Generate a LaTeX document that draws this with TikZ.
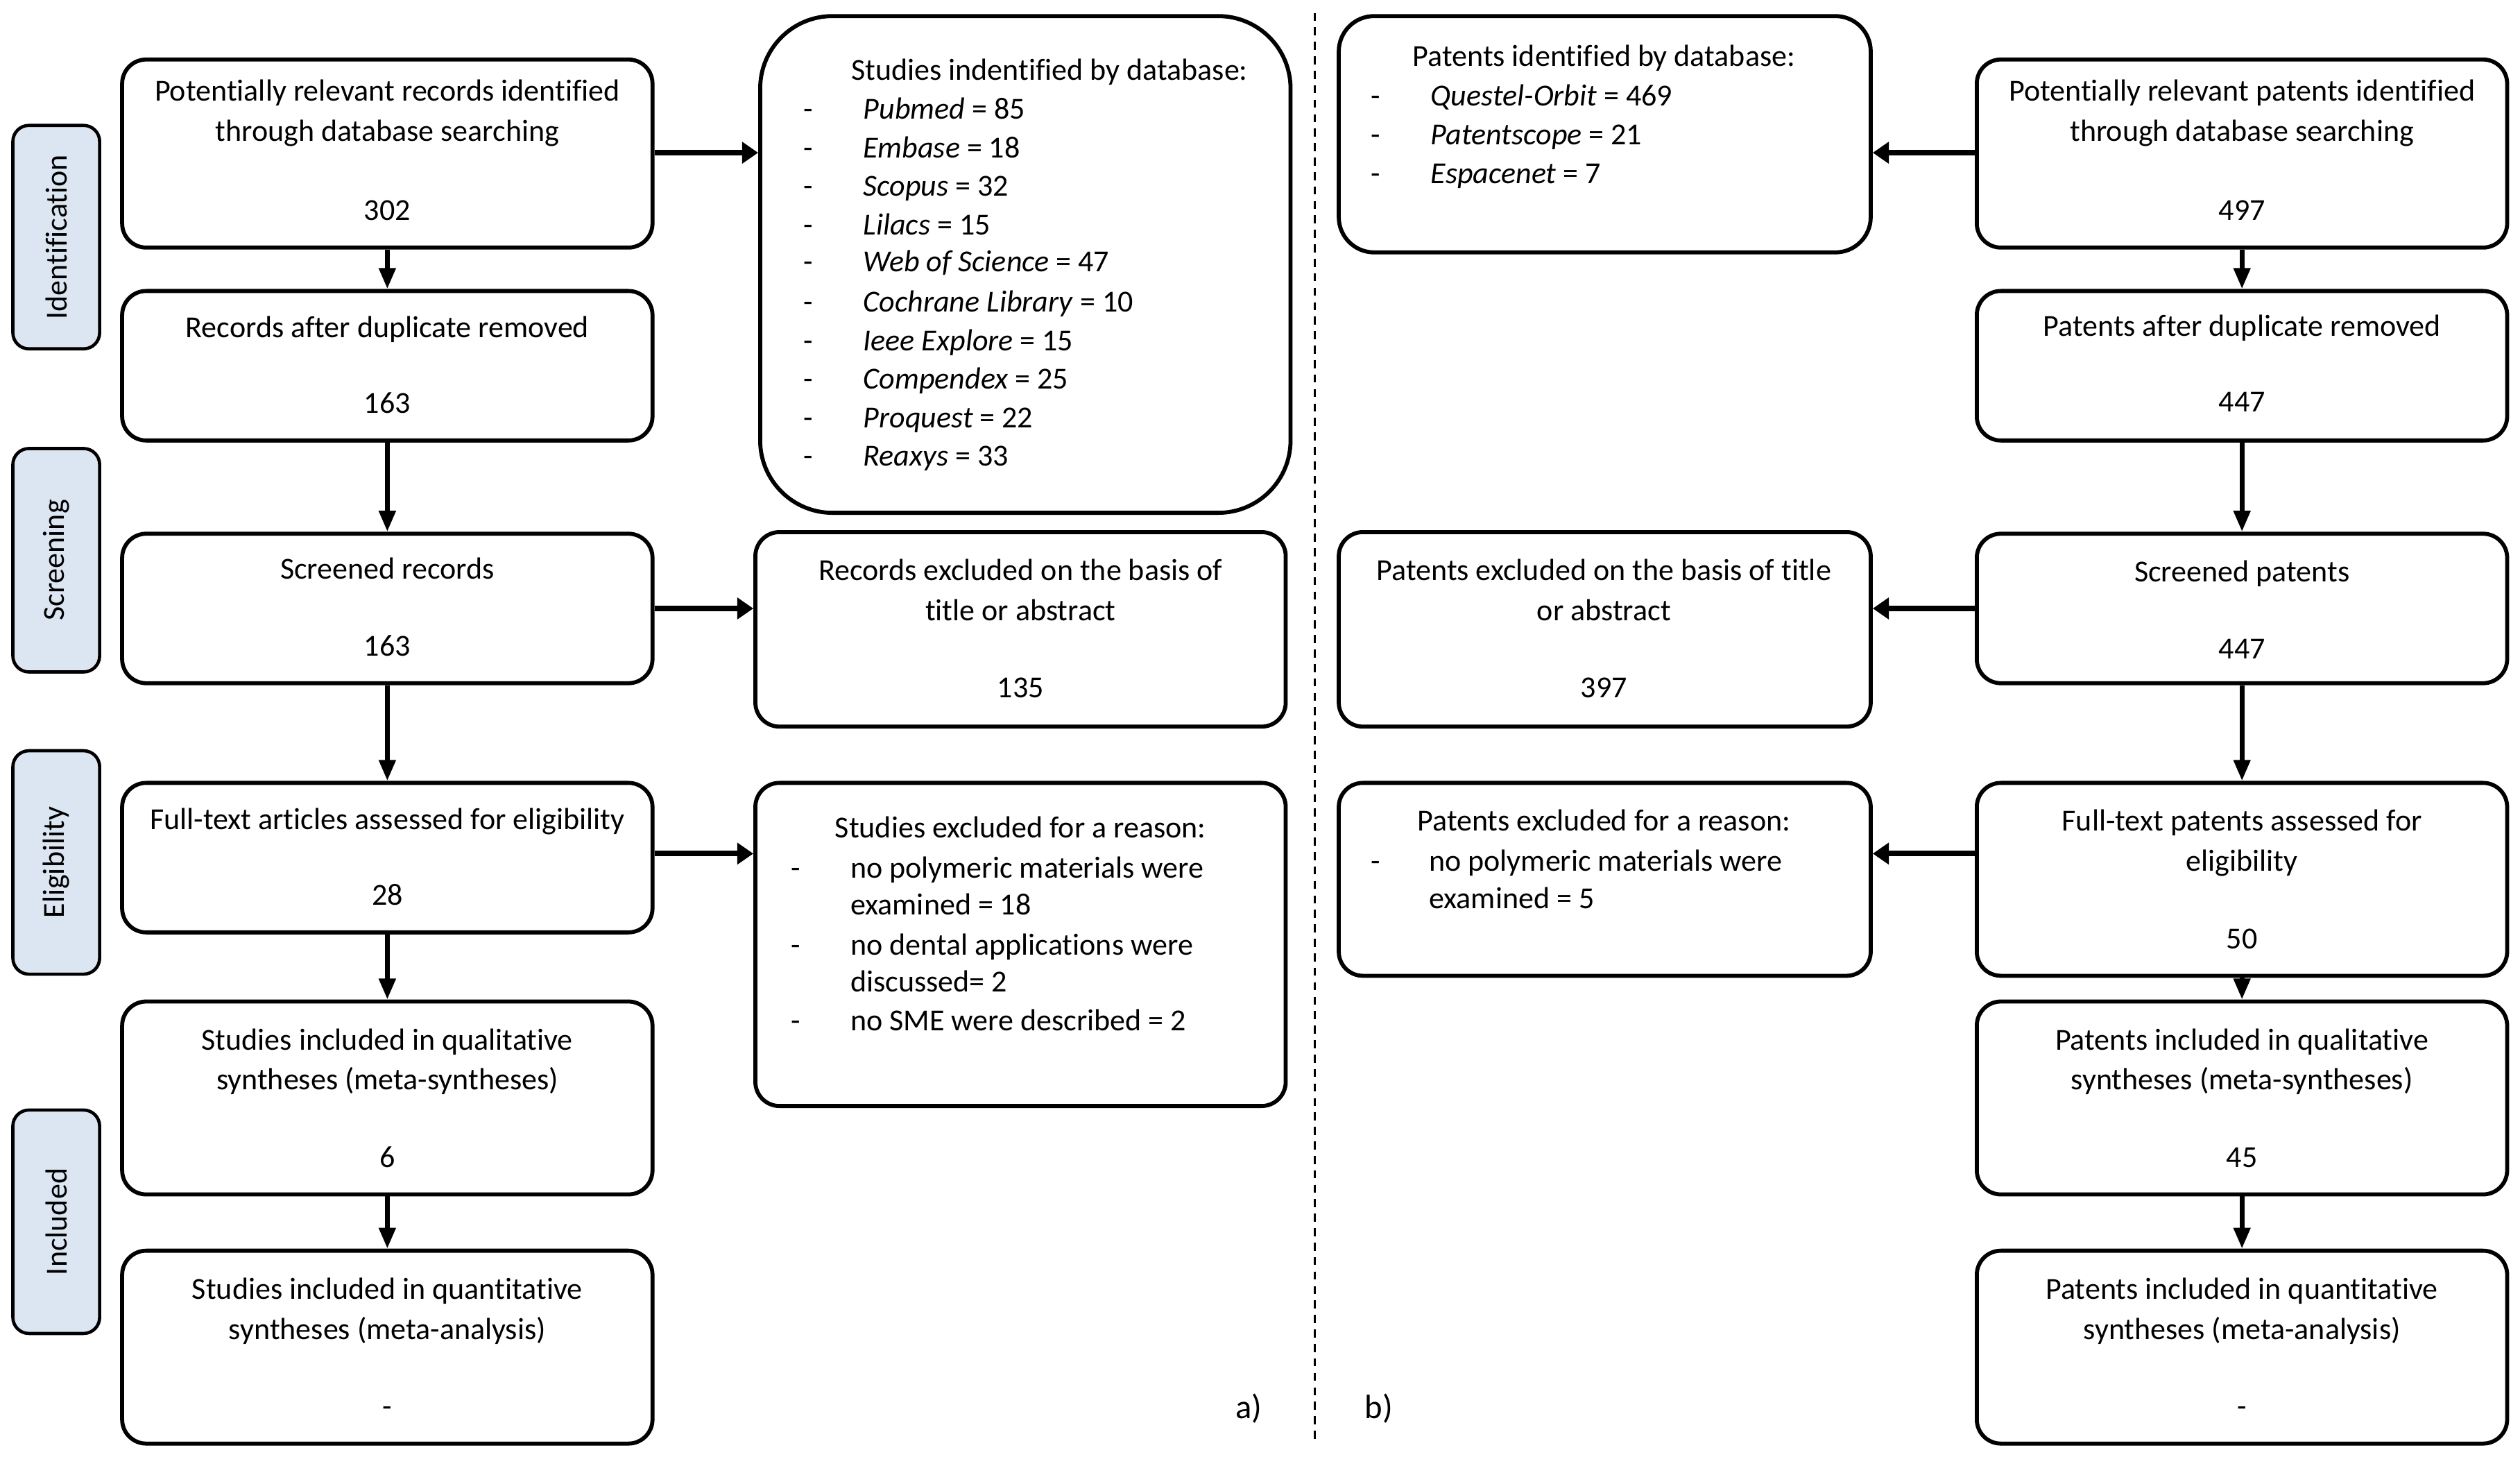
\documentclass[tikz,border=0pt]{standalone}
\usepackage{fontspec}
\setmainfont{Carlito}[RawFeature={-liga;-dlig;-clig}]
\usetikzlibrary{arrows.meta}
\definecolor{phasefill}{HTML}{DCE6F2}
\newcommand\myfont{\fontsize{19}{24}\selectfont}
\begin{document}
\begin{tikzpicture}[x=1pt,y=-1pt,
  box/.style={draw, line width=2.5pt, rounded corners=15pt, inner sep=0pt, minimum width=330pt},
  phase/.style={draw, line width=2pt, fill=phasefill, rounded corners=10pt, minimum width=54pt, minimum height=139pt, inner sep=0pt},
  txt/.style={anchor=base, inner sep=0pt, font=\myfont},
  ltxt/.style={anchor=base west, inner sep=0pt, font=\myfont},
  harr/.style={line width=3.5pt, -{Triangle[length=10pt,width=13pt]}},
  varr/.style={line width=3pt, -{Triangle[length=13pt,width=10pt]}}]
\useasboundingbox (0,0) rectangle (1568,906);

% ---------- phase labels ----------
\node[phase] (ph1) at (35,147.5) {};
\node[txt, rotate=90, anchor=center] (ph1t) at (35,147.5) {Identification};
\node[phase] (ph2) at (35,348.5) {};
\node[txt, rotate=90, anchor=center] (ph2t) at (35,348.5) {Screening};
\node[phase] (ph3) at (35,536.5) {};
\node[txt, rotate=90, anchor=center] (ph3t) at (35,536.5) {Eligibility};
\node[phase] (ph4) at (35,760) {};
\node[txt, rotate=90, anchor=center] (ph4t) at (35,760) {Included};

% ---------- left column ----------
\node[box, minimum height=117pt] (l1) at (241,95.5) {};
\node[txt] (l1a) at (241,63) {Potentially relevant records identified};
\node[txt] (l1b) at (241,88) {through database searching};
\node[txt] (l1c) at (241,137) {302};

\node[box, minimum height=93pt] (l2) at (241,227.5) {};
\node[txt] (l2a) at (241,210) {Records after duplicate removed};
\node[txt] (l2c) at (241,257) {163};

\node[box, minimum height=93pt] (l3) at (241,378.5) {};
\node[txt] (l3a) at (241,360) {Screened records};
\node[txt] (l3c) at (241,408) {163};

\node[box, minimum height=93pt] (l4) at (241,533.5) {};
\node[txt] (l4a) at (241,516) {Full-text articles assessed for eligibility};
\node[txt] (l4c) at (241,563) {28};

\node[box, minimum height=120pt] (l5) at (241,683) {};
\node[txt] (l5a) at (241,653) {Studies included in qualitative};
\node[txt] (l5b) at (241,678) {syntheses (meta-syntheses)};
\node[txt] (l5c) at (241,726) {6};

\node[box, minimum height=120pt] (l6) at (241,838) {};
\node[txt] (l6a) at (241,808) {Studies included in quantitative};
\node[txt] (l6b) at (241,833) {syntheses (meta-analysis)};
\node[txt] (l6c) at (241,881) {-};

% ---------- middle-left column ----------
\node[box, minimum height=309pt, rounded corners=45pt] (db) at (638,164.5) {};
\node[txt] (dbt) at (653,50) {Studies indentified by database:};
\node[txt] (dbd1) at (503,74) {-};  \node[ltxt] (dbi1) at (537,74) {\textit{Pubmed} = 85};
\node[txt] (dbd2) at (503,98) {-};  \node[ltxt] (dbi2) at (537,98) {\textit{Embase} = 18};
\node[txt] (dbd3) at (503,122) {-}; \node[ltxt] (dbi3) at (537,122) {\textit{Scopus} = 32};
\node[txt] (dbd4) at (503,146) {-}; \node[ltxt] (dbi4) at (537,146) {\textit{Lilacs} = 15};
\node[txt] (dbd5) at (503,169) {-}; \node[ltxt] (dbi5) at (537,169) {\textit{Web of Science} = 47};
\node[txt] (dbd6) at (503,194) {-}; \node[ltxt] (dbi6) at (537,194) {\textit{Cochrane Library} = 10};
\node[txt] (dbd7) at (503,218) {-}; \node[ltxt] (dbi7) at (537,218) {\textit{Ieee Explore} = 15};
\node[txt] (dbd8) at (503,242) {-}; \node[ltxt] (dbi8) at (537,242) {\textit{Compendex} = 25};
\node[txt] (dbd9) at (503,266) {-}; \node[ltxt] (dbi9) at (537,266) {\textit{Proquest} = 22};
\node[txt] (dbd10) at (503,290) {-}; \node[ltxt] (dbi10) at (537,290) {\textit{Reaxys} = 33};

\node[box, minimum height=121pt] (ex1) at (635,391.5) {};
\node[txt] (ex1a) at (635,361) {Records excluded on the basis of};
\node[txt] (ex1b) at (635,386) {title or abstract};
\node[txt] (ex1c) at (635,434) {135};

\node[box, minimum height=201pt] (ex2) at (635,587.5) {};
\node[txt] (ex2t) at (635,521) {Studies excluded for a reason:};
\node[txt] (ex2d1) at (495,546) {-}; \node[ltxt] (ex2i1) at (529,546) {no polymeric materials were};
\node[ltxt] (ex2i1b) at (529,569) {examined = 18};
\node[txt] (ex2d2) at (495,594) {-}; \node[ltxt] (ex2i2) at (529,594) {no dental applications were};
\node[ltxt] (ex2i2b) at (529,617) {discussed= 2};
\node[txt] (ex2d3) at (495,641) {-}; \node[ltxt] (ex2i3) at (529,641) {no SME were described = 2};

% ---------- right side ----------
\node[box, minimum width=331pt, minimum height=147pt, rounded corners=22pt] (pdb) at (998.5,83.5) {};
\node[txt] (pdbt) at (998,41) {Patents identified by database:};
\node[txt] (pdbd1) at (856,66) {-};  \node[ltxt] (pdbi1) at (890,66) {\textit{Questel-Orbit} = 469};
\node[txt] (pdbd2) at (856,90) {-};  \node[ltxt] (pdbi2) at (890,90) {\textit{Patentscope} = 21};
\node[txt] (pdbd3) at (856,114) {-}; \node[ltxt] (pdbi3) at (890,114) {\textit{Espacenet} = 7};

\node[box, minimum width=331pt, minimum height=121pt] (pex1) at (998.5,391.5) {};
\node[txt] (pex1a) at (998,361) {Patents excluded on the basis of title};
\node[txt] (pex1b) at (998,386) {or abstract};
\node[txt] (pex1c) at (998,434) {397};

\node[box, minimum width=331pt, minimum height=120pt] (pex2) at (998.5,547) {};
\node[txt] (pex2t) at (998,517) {Patents excluded for a reason:};
\node[txt] (pex2d1) at (856,542) {-}; \node[ltxt] (pex2i1) at (889,542) {no polymeric materials were};
\node[ltxt] (pex2i1b) at (889,565) {examined = 5};

\node[box, minimum height=117pt] (p1) at (1395,95.5) {};
\node[txt] (p1a) at (1395,63) {Potentially relevant patents identified};
\node[txt] (p1b) at (1395,88) {through database searching};
\node[txt] (p1c) at (1395,137) {497};

\node[box, minimum height=93pt] (p2) at (1395,227.5) {};
\node[txt] (p2a) at (1395,209) {Patents after duplicate removed};
\node[txt] (p2c) at (1395,256) {447};

\node[box, minimum height=93pt] (p3) at (1395,378.5) {};
\node[txt] (p3a) at (1395,362) {Screened patents};
\node[txt] (p3c) at (1395,410) {447};

\node[box, minimum height=120pt] (p4) at (1395,547) {};
\node[txt] (p4a) at (1395,517) {Full-text patents assessed for};
\node[txt] (p4b) at (1395,542) {eligibility};
\node[txt] (p4c) at (1395,590) {50};

\node[box, minimum height=120pt] (p5) at (1395,683) {};
\node[txt] (p5a) at (1395,653) {Patents included in qualitative};
\node[txt] (p5b) at (1395,678) {syntheses (meta-syntheses)};
\node[txt] (p5c) at (1395,726) {45};

\node[box, minimum height=120pt] (p6) at (1395,838) {};
\node[txt] (p6a) at (1395,808) {Patents included in quantitative};
\node[txt] (p6b) at (1395,833) {syntheses (meta-analysis)};
\node[txt] (p6c) at (1395,881) {-};

% ---------- divider and panel letters ----------
\coordinate (dtop) at (818,8);
\coordinate (dbot) at (818,898);
\draw[line width=1.3pt, dash pattern=on 5pt off 4pt] (dtop) -- (dbot);
\node[font=\fontsize{21}{24}\selectfont, inner sep=0pt] (la) at (777,876) {a)};
\node[font=\fontsize{21}{24}\selectfont, inner sep=0pt] (lb) at (858,876) {b)};

% ---------- connectors ----------
\draw[varr] (l1) -- (l2);
\draw[varr] (l2) -- (l3);
\draw[varr] (l3) -- (l4);
\draw[varr] (l4) -- (l5);
\draw[varr] (l5) -- (l6);
\draw[harr] ([yshift=0.5pt]l1.east) -- ([yshift=0.5pt]l1.east -| db.west);
\draw[harr] (l3.east) -- (l3.east -| ex1.west);
\draw[harr] ([yshift=2.5pt]l4.east) -- ([yshift=2.5pt]l4.east -| ex2.west);

\draw[varr] (p1) -- (p2);
\draw[varr] (p2) -- (p3);
\draw[varr] (p3) -- (p4);
\draw[varr] (p4) -- (p5);
\draw[varr] (p5) -- (p6);
\draw[harr] ([yshift=0.5pt]p1.west) -- ([yshift=0.5pt]p1.west -| pdb.east);
\draw[harr] (p3.west) -- (p3.west -| pex1.east);
\draw[harr] ([yshift=16pt]p4.west) -- ([yshift=16pt]p4.west -| pex2.east);
\end{tikzpicture}
\end{document}
